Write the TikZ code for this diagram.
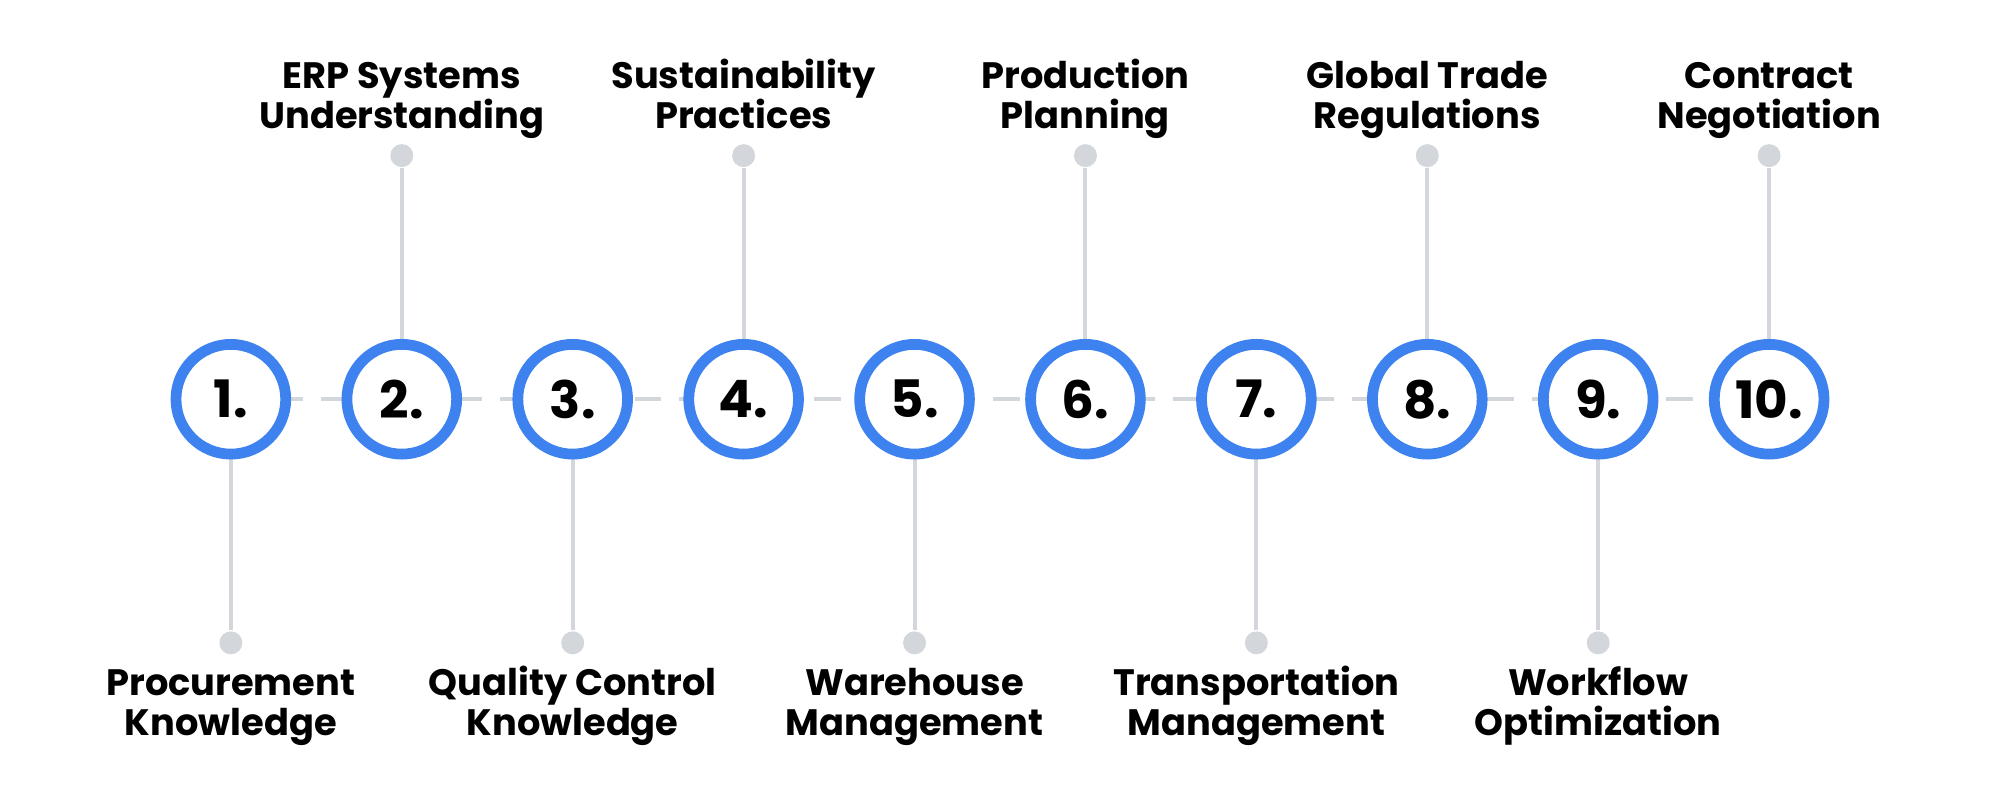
\documentclass[tikz,border=0pt]{standalone}
\usepackage{fontspec}
\setmainfont{Poppins}
\definecolor{ringblue}{HTML}{3E82F0}
\definecolor{stemgray}{HTML}{D3D6DA}
\begin{document}
\begin{tikzpicture}[x=0.01cm,y=-0.01cm,
  ring/.style={circle,draw=ringblue,line width=2.4pt,fill=white,minimum size=0.86cm,inner sep=0pt,font=\fontsize{11.5}{12}\selectfont\bfseries},
  stem/.style={draw=stemgray,line width=0.9pt},
  dot/.style={circle,fill=stemgray,minimum size=0.18cm,inner sep=0pt},
  lbl/.style={align=center,font=\fontsize{8.2}{9.1}\selectfont\bfseries,inner sep=0pt}]
\useasboundingbox (0,0) rectangle (1568,627);
\foreach \i/\x in {1/181,2/315,3/449,4/583,5/717,6/851,7/985,8/1119,9/1253,10/1387}{
  \coordinate (c\i) at (\x,313);
}
\draw[stemgray,line width=0.9pt,dashed,dash pattern=on 6pt off 4pt] (c1) -- (c10);
\foreach \i/\x/\t in {2/315/{ERP Systems\\Understanding},4/583/{Sustainability\\Practices},6/851/{Production\\Planning},8/1119/{Global Trade\\Regulations},10/1387/{Contract\\Negotiation}}{
  \node[dot] (d\i) at (\x,122) {};
  \draw[stem] (c\i) -- (d\i);
  \node[lbl,anchor=base] (t\i) at (\x,101) {\t};
}
\foreach \i/\x/\t in {1/181/{Procurement\\Knowledge},3/449/{Quality Control\\Knowledge},5/717/{Warehouse\\Management},7/985/{Transportation\\Management},9/1253/{Workflow\\Optimization}}{
  \node[dot] (d\i) at (\x,504) {};
  \draw[stem] (c\i) -- (d\i);
  \node[lbl,anchor=base] (t\i) at (\x,577) {\t};
}
\foreach \i in {1,...,10}{
  \node[ring] (n\i) at (c\i) {\i.};
}
\end{tikzpicture}
\end{document}
